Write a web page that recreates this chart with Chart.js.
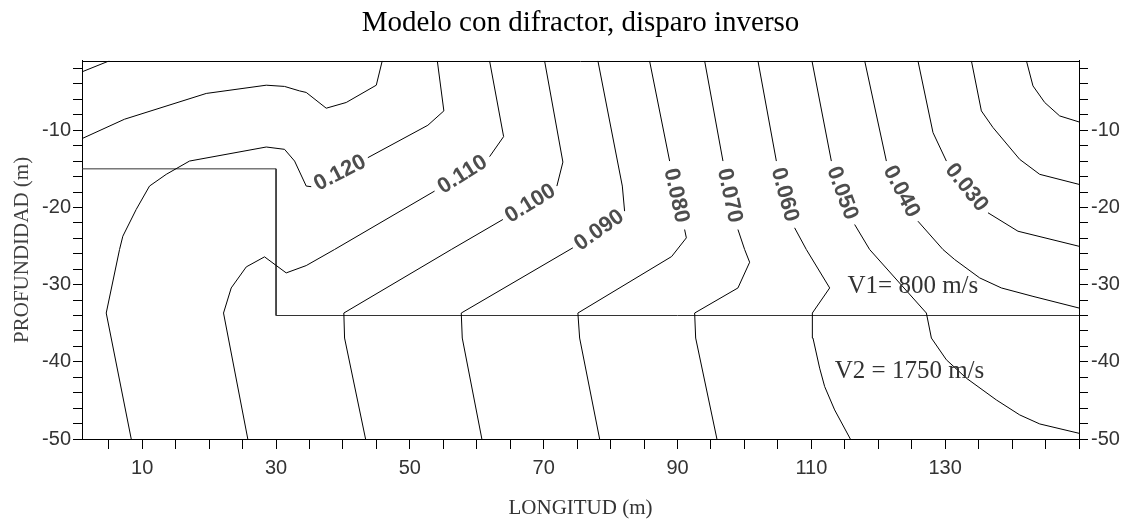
<!DOCTYPE html>
<html>
<head>
<meta charset="utf-8">
<title>Modelo con difractor, disparo inverso</title>
<style>
  html, body { margin: 0; padding: 0; background: #ffffff; }
  #wrap { width: 1129px; height: 521px; }
</style>
<script src="https://cdn.jsdelivr.net/npm/chart.js@4/dist/chart.umd.min.js"></script>
</head>
<body>
<div id="wrap"><canvas id="chart" width="1129" height="521"></canvas></div>
<script>
// Travel-time iso-lines (s) as [distance (m), depth (m)] pairs
const iso140 = [[1, -2.43], [5.1, -1]];
const iso130 = [[1, -11.08], [7.35, -8.57], [19.57, -5.23], [28.54, -4.16], [31.27, -4.32],
  [33.51, -4.9], [34.51, -5.1], [37.5, -7.14], [40.49, -6.4], [44.98, -4.16], [45.87, -1]];
const iso120 = [[8.36, -50], [4.62, -33.68], [6.61, -25.45], [7.1, -23.73], [9.1, -20.26],
  [11.09, -17.23], [13.59, -15.71], [17.07, -13.99], [28.54, -12.17], [31.27, -12.47],
  [32.77, -13.99], [34.51, -17.23], [35.26, -17.31], [43.72, -13.55], [52.69, -9.35],
  [55.08, -7.49], [54.1, -1]];
const iso110 = [[25.78, -50], [22.15, -33.68], [23.3, -30.43], [25.55, -27.7], [28.28, -26.4],
  [31.52, -28.48], [34.51, -27.53], [38.74, -25.45], [53.69, -17.88], [61.91, -13.42],
  [64.01, -10.82], [61.91, -1]];
const iso100 = [[43.38, -50], [40.24, -36.92], [40.13, -33.68], [56.19, -25.45], [63.9, -21.56],
  [71.97, -17.23], [72.87, -14.12], [70.13, -1]];
const iso090 = [[60.76, -50], [57.83, -36.92], [57.68, -33.68], [74.36, -25.23], [82.09, -20.48],
  [81.75, -17.23], [78.1, -1]];
const iso080 = [[78.36, -50], [75.37, -36.92], [75.11, -33.68], [89.12, -26.36], [91.32, -23.94],
  [91.06, -22.86], [88.82, -13.99], [85.82, -1]];
const iso070 = [[95.89, -50], [92.71, -36.92], [92.56, -33.68], [99.03, -30.43], [100.78, -27.1],
  [100.03, -25.45], [99.03, -22.86], [96.79, -13.99], [94.05, -1]];
const iso060 = [[115.83, -50], [113.48, -46.23], [111.99, -43.21], [111.24, -40.82], [110.24, -36.92],
  [110.15, -33.68], [112.74, -30.43], [109.25, -25.45], [107.5, -22.64], [104.77, -13.99], [102.02, -1]];
const iso050 = [[150, -49.26], [144.13, -48.05], [141.14, -46.88], [137.65, -44.94], [133.17, -42.12],
  [130.18, -39.74], [127.94, -36.92], [127.19, -33.68], [118.71, -25.45], [116.47, -22.21],
  [112.99, -13.99], [110.09, -1]];
const iso040 = [[150, -33.03], [143.12, -31.52], [138.4, -30.43], [135.16, -29.13], [131.42, -26.75],
  [129.67, -25.45], [125.93, -21.78], [121.21, -13.99], [117.97, -1]];
const iso030 = [[150, -25.03], [140.88, -23.08], [136.4, -20.69], [130.18, -13.99], [128.18, -10.3],
  [125.93, -1]];
const iso020 = [[150, -17.01], [144.13, -15.71], [141.14, -13.77], [137.15, -9.65], [135.41, -7.49],
  [133.92, -1]];
const iso010 = [[150, -8.92], [147.11, -8.14], [144.87, -6.4], [143.12, -4.25], [142.14, -1]];

// Level of each line and the segment left open for its label (-1 = unlabelled)
const levelNames = ['0.140', '0.130', '0.120', '0.110', '0.100', '0.090', '0.080',
  '0.070', '0.060', '0.050', '0.040', '0.030', '0.020', '0.010'];
const levelLines = [iso140, iso130, iso120, iso110, iso100, iso090, iso080,
  iso070, iso060, iso050, iso040, iso030, iso020, iso010];
const labelSegment = [-1, -1, 12, 8, 4, 3, 5, 6, 8, 9, 6, 2, -1, -1];

// Layer interface and the diffractor block
const interfaceLine = [[1, -15], [30, -15], [30, -34], [150, -34]];

// Axis ticks
const xTickValues = [5, 10, 15, 20, 25, 30, 35, 40, 45, 50, 55, 60, 65, 70, 75, 80, 85, 90,
  95, 100, 105, 110, 115, 120, 125, 130, 135, 140, 145, 150];
const xTickLabels = [10, 30, 50, 70, 90, 110, 130];
const yTickValues = [-2, -4, -6, -8, -10, -12, -14, -16, -18, -20, -22, -24, -26, -28, -30,
  -32, -34, -36, -38, -40, -42, -44, -46, -48, -50];
const yTickLabels = [-10, -20, -30, -40, -50];

const toPoints = arr => arr.map(p => ({ x: p[0], y: p[1] }));
const HIDDEN = 'rgba(0,0,0,0)';

const datasets = levelLines.map((line, i) => ({
  label: levelNames[i],
  data: toPoints(line),
  showLine: true,
  borderColor: '#000000',
  borderWidth: 1,
  pointRadius: 0,
  pointHoverRadius: 0,
  tension: 0,
  fill: false,
  segment: {
    borderColor: ctx => (ctx.p0DataIndex === labelSegment[i] ? HIDDEN : '#000000')
  }
}));
datasets.push({
  label: 'interfaz',
  data: toPoints(interfaceLine),
  showLine: true,
  borderColor: '#333333',
  borderWidth: 1,
  pointRadius: 0,
  pointHoverRadius: 0,
  tension: 0,
  fill: false
});

// Level labels along the lines, frame top edge and the velocity notes
const contourExtras = {
  id: 'contourExtras',
  afterDatasetsDraw(chart) {
    const ctx = chart.ctx;
    const area = chart.chartArea;
    ctx.save();
    ctx.strokeStyle = '#000000';
    ctx.lineWidth = 1;
    ctx.beginPath();
    ctx.moveTo(area.left, Math.round(area.top) + 0.5);
    ctx.lineTo(area.right, Math.round(area.top) + 0.5);
    ctx.stroke();

    ctx.font = 'bold 22px "Liberation Sans", Arial, sans-serif';
    ctx.fillStyle = '#4d4d4d';
    ctx.textAlign = 'center';
    ctx.textBaseline = 'middle';
    levelLines.forEach((line, i) => {
      const k = labelSegment[i];
      if (k < 0) return;
      const pts = chart.getDatasetMeta(i).data;
      const a = pts[k], b = pts[k + 1];
      let ang = Math.atan2(b.y - a.y, b.x - a.x);
      if (ang > Math.PI / 2) ang -= Math.PI;
      if (ang < -Math.PI / 2) ang += Math.PI;
      ctx.save();
      ctx.translate((a.x + b.x) / 2, (a.y + b.y) / 2);
      ctx.rotate(ang);
      ctx.fillText(levelNames[i], 0, 1);
      ctx.restore();
    });

    const xs = chart.scales.x, ys = chart.scales.y;
    ctx.font = '25px "Liberation Serif", "Times New Roman", serif';
    ctx.fillStyle = '#333333';
    ctx.textAlign = 'left';
    ctx.textBaseline = 'alphabetic';
    ctx.fillText('V1= 800 m/s', xs.getPixelForValue(115.4), ys.getPixelForValue(-31.08));
    ctx.fillText('V2 = 1750 m/s', xs.getPixelForValue(113.5), ys.getPixelForValue(-42.08));
    ctx.restore();
  }
};

const tickFont = { family: 'Liberation Sans', size: 20 };
const axisGrid = len => ({
  drawOnChartArea: false,
  drawTicks: true,
  tickLength: len,
  color: '#000000',
  lineWidth: 1
});
const yTicks = (padding) => ({
  autoSkip: false,
  padding: padding,
  font: tickFont,
  color: '#333333',
  callback: v => (yTickLabels.includes(v) ? String(v) : '')
});
const setYTicks = scale => { scale.ticks = yTickValues.map(v => ({ value: v })); };

new Chart(document.getElementById('chart'), {
  type: 'scatter',
  data: { datasets },
  plugins: [contourExtras],
  options: {
    responsive: false,
    animation: false,
    devicePixelRatio: 1,
    layout: { padding: 0 },
    plugins: {
      legend: { display: false },
      tooltip: { enabled: false },
      title: {
        display: true,
        text: 'Modelo con difractor, disparo inverso',
        fullSize: false,
        color: '#000000',
        font: { family: 'Liberation Serif', size: 29, weight: 'normal' },
        padding: { top: 6, bottom: 20 }
      }
    },
    scales: {
      x: {
        type: 'linear',
        position: 'bottom',
        min: 1,
        max: 150,
        afterBuildTicks: scale => { scale.ticks = xTickValues.map(v => ({ value: v })); },
        afterFit: scale => { scale.height = 82; },
        grid: axisGrid(10),
        border: { display: true, color: '#000000', width: 1 },
        ticks: {
          autoSkip: false,
          maxRotation: 0,
          padding: 7,
          font: tickFont,
          color: '#333333',
          callback: v => (xTickLabels.includes(v) ? String(v) : '')
        },
        title: {
          display: true,
          text: 'LONGITUD (m)',
          color: '#333333',
          font: { family: 'Liberation Serif', size: 21 },
          padding: { top: 0, bottom: 0 }
        }
      },
      y: {
        type: 'linear',
        position: 'left',
        min: -50,
        max: -1,
        afterBuildTicks: setYTicks,
        afterFit: scale => { scale.width = 82; },
        grid: axisGrid(9),
        border: { display: true, color: '#000000', width: 1 },
        ticks: yTicks(2),
        title: {
          display: true,
          text: 'PROFUNDIDAD (m)',
          color: '#404040',
          font: { family: 'Liberation Serif', size: 21 },
          padding: { top: 10, bottom: 0 }
        }
      },
      yR: {
        type: 'linear',
        position: 'right',
        min: -50,
        max: -1,
        afterBuildTicks: setYTicks,
        afterFit: scale => { scale.width = 50; },
        grid: axisGrid(9),
        border: { display: true, color: '#000000', width: 1 },
        ticks: yTicks(3)
      }
    }
  }
});
</script>
</body>
</html>
